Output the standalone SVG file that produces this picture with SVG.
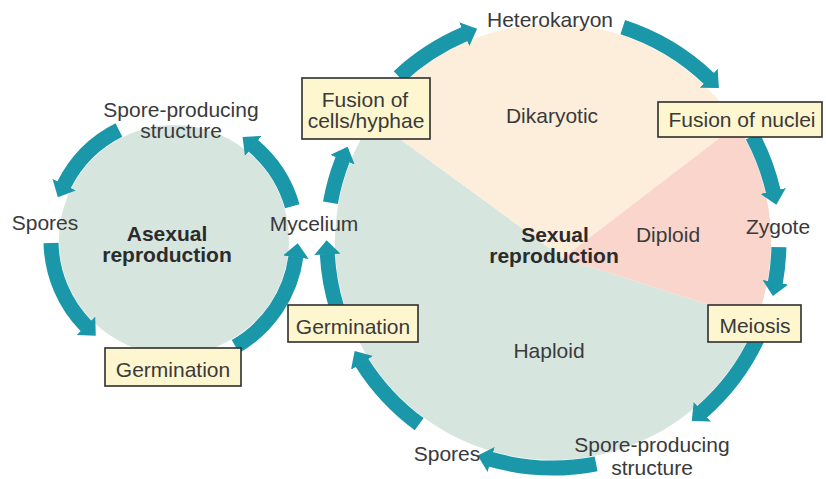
<svg xmlns="http://www.w3.org/2000/svg" width="826" height="479" viewBox="0 0 826 479">
<style>
.lbl{font-family:"Liberation Sans",Arial,sans-serif;font-size:21px;fill:#3a3a3a;text-anchor:middle}
.bold{font-weight:bold;fill:#2b2b2b}
.box{fill:#fdf6cf;stroke:#2e2e2e;stroke-width:1.6}
.arr{fill:none;stroke:#1a97a8;stroke-width:15;marker-end:url(#head)}
</style>
<defs>
<marker id="head" markerUnits="userSpaceOnUse" viewBox="0 0 14 26" markerWidth="14" markerHeight="26" refX="0.5" refY="13" orient="auto">
<path d="M0,0 L14,13 L0,26 Z" fill="#1a97a8"/>
</marker>
</defs>
<rect width="826" height="479" fill="#ffffff"/>
<g id="backgrounds">
<circle cx="174" cy="240" r="115" fill="#d7e5df"/>
<path d="M563,258 L756.6,319.9 A218,218 0 1 1 372.8,119.3 Z" fill="#d7e5df"/>
<path d="M563,258 L372.8,119.3 A218,218 0 0 1 736.9,124.8 Z" fill="#fdeedb"/>
<path d="M563,258 L736.9,124.8 A218,218 0 0 1 756.6,319.9 Z" fill="#f9d5cb"/>
</g>
<g id="connectors">
<path class="arr" d="M398.9,76.7 A226,226 0 0 1 464.7,34.0"/>
<path class="arr" d="M622.8,27.1 A226,226 0 0 1 709.1,78.6"/>
<path class="arr" d="M752.5,135.9 A226,226 0 0 1 773.3,191.5"/>
<path class="arr" d="M778.9,247.1 A226,226 0 0 1 775.3,282.8"/>
<path class="arr" d="M757.8,337.5 A226,226 0 0 1 701.9,412.0"/>
<path class="arr" d="M596.1,463.8 A226,226 0 0 1 490.7,459.3"/>
<path class="arr" d="M419.2,424.1 A226,226 0 0 1 361.8,362.4"/>
<path class="arr" d="M336.9,308.1 A226,226 0 0 1 327.3,253.8"/>
<path class="arr" d="M330.4,202.8 A226,226 0 0 1 342.7,159.2"/>
<path class="arr" d="M292.3,206.3 A123,123 0 0 0 252.9,145.6"/>
<path class="arr" d="M118.9,130.0 A123,123 0 0 0 63.9,185.1"/>
<path class="arr" d="M51.0,243.0 A123,123 0 0 0 86.3,326.2"/>
<path class="arr" d="M235.5,346.5 A123,123 0 0 0 295.9,256.7"/>
</g>
<g id="asexual-title"><text class="lbl bold" x="167" y="241">Asexual</text><text class="lbl bold" x="167" y="262">reproduction</text></g>
<g id="asexual-spore-structure"><text class="lbl" x="181" y="117">Spore-producing</text><text class="lbl" x="181" y="138">structure</text></g>
<g id="asexual-spores"><text class="lbl" x="45" y="230">Spores</text></g>
<g id="asexual-germination"><rect class="box" x="105" y="348" width="136" height="38"/><text class="lbl" x="173" y="377">Germination</text></g>
<g id="mycelium"><text class="lbl" x="314" y="231">Mycelium</text></g>
<g id="fusion-cells"><rect class="box" x="302" y="78" width="128" height="61"/><text class="lbl" x="365" y="107">Fusion of</text><text class="lbl" x="366" y="128">cells/hyphae</text></g>
<g id="heterokaryon"><text class="lbl" x="550" y="27">Heterokaryon</text></g>
<g id="dikaryotic"><text class="lbl" x="552" y="123">Dikaryotic</text></g>
<g id="fusion-nuclei"><rect class="box" x="658" y="102" width="164" height="35"/><text class="lbl" x="742" y="127">Fusion of nuclei</text></g>
<g id="sexual-title"><text class="lbl bold" x="555" y="242">Sexual</text><text class="lbl bold" x="554" y="263">reproduction</text></g>
<g id="diploid"><text class="lbl" x="668" y="242">Diploid</text></g>
<g id="zygote"><text class="lbl" x="778" y="234">Zygote</text></g>
<g id="meiosis"><rect class="box" x="708" y="305" width="93" height="37"/><text class="lbl" x="755" y="333">Meiosis</text></g>
<g id="sexual-germination"><rect class="box" x="288" y="305" width="130" height="37"/><text class="lbl" x="353" y="334">Germination</text></g>
<g id="haploid"><text class="lbl" x="549" y="358">Haploid</text></g>
<g id="sexual-spores"><text class="lbl" x="447" y="461">Spores</text></g>
<g id="sexual-spore-structure"><text class="lbl" x="652" y="452">Spore-producing</text><text class="lbl" x="652" y="475">structure</text></g>
</svg>
